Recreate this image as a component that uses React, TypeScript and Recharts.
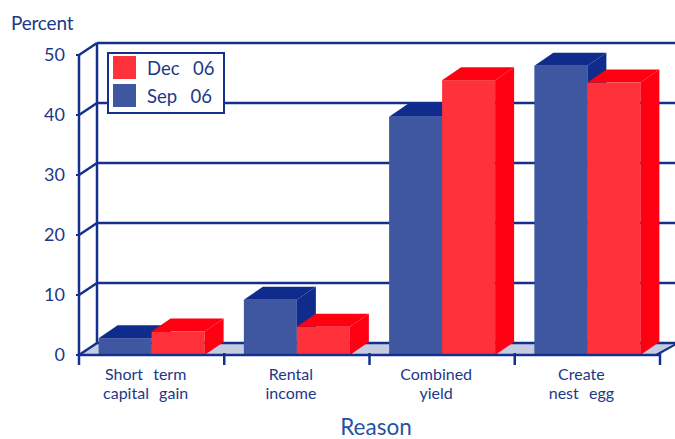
import { Bar, BarChart, CartesianGrid, Legend, XAxis, YAxis } from "recharts"

// values (percent)
const reasons = ["Short  term\ncapital  gain", "Rental\nincome", "Combined\nyield", "Create\nnest  egg"]
const sep06 = [2.8, 9.2, 39.7, 48.2]
const dec06 = [3.9, 4.7, 45.8, 45.4]
const yTicks = [0, 10, 20, 30, 40, 50]

const data = reasons.map((reason, i) => ({ reason, sep: sep06[i], dec: dec06[i] }))

const W = 675
const H = 439
const PLOT = { top: 55, right: 15, bottom: 84, left: 79 }
const Y_AXIS_W = 60
const X_AXIS_H = 30
const BAND = (W - PLOT.left - PLOT.right) / reasons.length

const NAVY = "#14308c"
const TEXT = "#1c3888"
const FONT = "Lato, 'Open Sans', sans-serif"
// depth of the walls / boxes
const WDX = 18
const WDY = 12
const BDX = 19
const BDY = 13

function Box3D(props: any) {
  const { x, y, width: w, height: h, front, dark } = props
  if (!h || h <= 0) return null
  return (
    <g>
      <rect x={x} y={y} width={w} height={h} fill={front} />
      <polygon points={`${x},${y} ${x + BDX},${y - BDY} ${x + w + BDX},${y - BDY} ${x + w},${y}`} fill={dark} />
      <polygon points={`${x + w},${y} ${x + w + BDX},${y - BDY} ${x + w + BDX},${y + h - BDY} ${x + w},${y + h}`} fill={dark} />
    </g>
  )
}

// back wall, side wall lines and floor, drawn for each horizontal grid line
function GridLine3D(p: any) {
  const { x1, x2, y1 } = p
  const top = p.y ?? PLOT.top
  const bottom = top + (p.height ?? H - PLOT.top - PLOT.bottom)
  const isBottom = Math.abs(y1 - bottom) < 0.5
  const isTop = Math.abs(y1 - top) < 0.5
  return (
    <g key={p.key}>
      {isBottom && (
        <polygon
          points={`${x1},${y1} ${x2},${y1} ${x2 + WDX},${y1 - WDY} ${x1 + WDX},${y1 - WDY}`}
          fill="#c5cbe0"
        />
      )}
      {isBottom && <line x1={x2 - 4} y1={y1} x2={x2 + WDX} y2={y1 - WDY} stroke={NAVY} strokeWidth={2} />}
      {isTop && <line x1={x1 + WDX} y1={y1 - WDY} x2={x1 + WDX} y2={bottom - WDY} stroke={NAVY} strokeWidth={2.5} />}
      <line x1={x1} y1={y1} x2={x1 + WDX} y2={y1 - WDY} stroke={NAVY} strokeWidth={2.5} />
      <line x1={x1 + WDX} y1={y1 - WDY} x2={x2 + WDX} y2={y1 - WDY} stroke={NAVY} strokeWidth={2.5} />
    </g>
  )
}

function CategoryTick(props: any) {
  const { x, y, payload, index } = props
  const lines = String(payload.value).split("\n")
  return (
    <g>
      {index === 0 && <line x1={x - BAND / 2} y1={y - 2} x2={x - BAND / 2} y2={y + 10} stroke={NAVY} strokeWidth={2.5} />}
      <line x1={x + BAND / 2} y1={y - 2} x2={x + BAND / 2} y2={y + 10} stroke={NAVY} strokeWidth={2.5} />
      {lines.map((t, i) => (
        <text
          key={i}
          x={x - 6}
          y={y + 25 + i * 19}
          textAnchor="middle"
          fill={TEXT}
          fontSize={16}
          fontFamily={FONT}
          wordSpacing={1}
          style={{ whiteSpace: "pre" }}
        >
          {t}
        </text>
      ))}
    </g>
  )
}

function LegendBox() {
  const items = [
    { label: "Dec  06", color: "#ff323c" },
    { label: "Sep  06", color: "#3f56a0" },
  ]
  return (
    <svg width={118} height={62} style={{ display: "block", overflow: "visible" }}>
      <rect x={1} y={1} width={116} height={60} fill="#fff" stroke={NAVY} strokeWidth={2} />
      {items.map((it, i) => (
        <g key={it.label}>
          <rect x={6} y={4 + i * 28} width={23} height={23} fill={it.color} />
          <text x={40} y={23 + i * 28} fill={TEXT} fontSize={18.5} fontFamily={FONT} wordSpacing={2} style={{ whiteSpace: "pre" }}>
            {it.label}
          </text>
        </g>
      ))}
    </svg>
  )
}

export default function App() {
  return (
    <div style={{ position: "absolute", left: 0, top: 0, width: W, height: H, background: "#fff" }}>
      <BarChart
        width={W}
        height={H}
        data={data}
        margin={{ top: PLOT.top, right: PLOT.right, bottom: PLOT.bottom - X_AXIS_H, left: PLOT.left - Y_AXIS_W }}
        barCategoryGap="13.5%"
        barGap={0}
      >
        <CartesianGrid vertical={false} horizontal={GridLine3D as any} />
        <XAxis
          dataKey="reason"
          height={X_AXIS_H}
          axisLine={{ stroke: NAVY, strokeWidth: 2.5 }}
          tickLine={false}
          tickSize={0}
          tickMargin={0}
          interval={0}
          tick={<CategoryTick />}
        />
        <YAxis
          width={Y_AXIS_W}
          domain={[0, 50]}
          ticks={yTicks}
          axisLine={{ stroke: NAVY, strokeWidth: 2.5 }}
          tickLine={{ stroke: NAVY, strokeWidth: 2 }}
          tickSize={3}
          tickMargin={11}
          tick={{ fill: TEXT, fontSize: 18, fontFamily: FONT }}
        />
        <Legend
          content={() => <LegendBox />}
          wrapperStyle={{ position: "absolute", left: 107, top: 52, width: 0, height: 0, overflow: "visible" }}
        />
        <Bar
          dataKey="sep"
          name="Sep 06"
          isAnimationActive={false}
          shape={(p: any) => <Box3D {...p} front="#3f56a0" dark="#0f2b8c" />}
        />
        <Bar
          dataKey="dec"
          name="Dec 06"
          isAnimationActive={false}
          shape={(p: any) => <Box3D {...p} front="#ff323c" dark="#ff0012" />}
        />
      </BarChart>
      <div style={{ position: "absolute", left: 11, top: 11, fontFamily: FONT, fontSize: 19, color: TEXT, letterSpacing: -0.2 }}>
        Percent
      </div>
      <div style={{ position: "absolute", left: 0, width: 752, top: 413, textAlign: "center", fontFamily: FONT, fontSize: 22.5, color: "#1f55a6" }}>
        Reason
      </div>
    </div>
  )
}
